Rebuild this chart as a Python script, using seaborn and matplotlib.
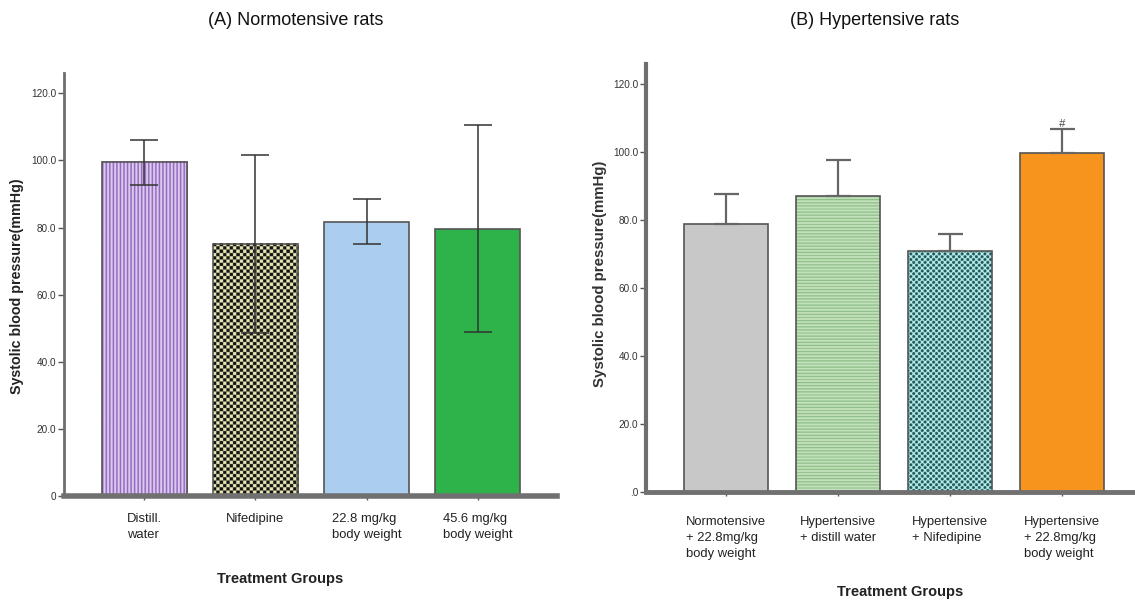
import numpy as np
import matplotlib
matplotlib.use("Agg")
import matplotlib.pyplot as plt
import seaborn as sns

# ---- data -------------------------------------------------------------
groups_a = ["Distill.\nwater", "Nifedipine", "22.8 mg/kg\nbody weight", "45.6 mg/kg\nbody weight"]
sbp_a = [99.4, 75.2, 81.8, 79.6]
sem_a = [6.6, 26.5, 6.7, 30.8]

groups_b = ["Normotensive\n+ 22.8mg/kg\nbody weight", "Hypertensive\n+ distill water",
            "Hypertensive\n+ Nifedipine", "Hypertensive\n+ 22.8mg/kg\nbody weight"]
sbp_b = [79.0, 87.0, 70.9, 99.9]
sem_b = [8.6, 10.8, 5.2, 6.9]

yticks = [0, 20, 40, 60, 80, 100, 120]
ytick_labels_a = ["0", "20.0", "40.0", "60.0", "80.0", "100.0", "120.0"]
ytick_labels_b = [".0", "20.0", "40.0", "60.0", "80.0", "100.0", "120.0"]

colors_a = ["#d8c6ee", "#e8e6b4", "#abcdee", "#2db34a"]
colors_b = ["#c8c8c8", "#b5d9ad", "#bdeeee", "#f7941d"]

REG = ["Liberation Sans", "DejaVu Sans"]

sns.set_theme(style="white")
plt.rcParams["font.family"] = REG

fig = plt.figure(figsize=(11.35, 6.03), dpi=100)
fig.patch.set_facecolor("white")

ax_a = fig.add_axes([0.05639, 0.17662, 0.43436, 0.70232])
ax_b = fig.add_axes([0.5689, 0.18408, 0.4311, 0.70978])


# ---- fill textures -----------------------------------------------------
def hex_rgb(h):
    h = h.lstrip("#")
    return np.array([int(h[i:i + 2], 16) / 255 for i in (0, 2, 4)])


def vstripes(U, V):
    dark = (U % 3.5) < 1.6
    return np.where(dark[..., None], hex_rgb("#9468bf"), hex_rgb("#dccbef"))


def checker(U, V):
    c = ((U // 3.3) + (V // 3.3)) % 2 == 0
    return np.where(c[..., None], hex_rgb("#121212"), hex_rgb("#e8e6b4"))


def hstripes(U, V):
    dark = (V % 3.1) < 1.2
    return np.where(dark[..., None], hex_rgb("#8dbd86"), hex_rgb("#c4e2bd"))


def dots(U, V):
    p = 5.7
    d1 = np.hypot((U % p) - p / 2, (V % p) - p / 2)
    d2 = np.hypot(((U + p / 2) % p) - p / 2, ((V + p / 2) % p) - p / 2)
    dark = np.minimum(d1, d2) < 1.55
    return np.where(dark[..., None], hex_rgb("#1d5b5b"), hex_rgb("#bdeeee"))


def add_texture(ax, patch, painter, os_=4):
    x0, y0 = patch.get_x(), patch.get_y()
    w, h = patch.get_width(), patch.get_height()
    (px0, py0), (px1, py1) = ax.transData.transform([(x0, y0), (x0 + w, y0 + h)])
    wpx = max(1, int(round(abs(px1 - px0))))
    hpx = max(1, int(round(abs(py1 - py0))))
    u = (np.arange(wpx * os_) + 0.5) / os_
    v = (np.arange(hpx * os_) + 0.5) / os_
    U, V = np.meshgrid(u, v)
    img = painter(U, V)
    ax.imshow(img, extent=(x0, x0 + w, y0, y0 + h), origin="upper", aspect="auto",
              interpolation="antialiased", zorder=patch.get_zorder() - 0.05)
    patch.set_facecolor("none")


def draw_panel(ax, groups, vals, errs, colors, width, xlim, textures, lower_err,
               capsize, ecolor, elw, ylabels_txt, tick_pad, spine_w):
    sns.barplot(x=groups, y=vals, hue=groups, palette=colors, legend=False,
                errorbar=None, width=width, edgecolor="#555555", linewidth=1.2,
                saturation=1, ax=ax)
    ax.set_xlim(*xlim)
    ax.set_ylim(0, 126)
    patches = sorted(ax.patches, key=lambda p: p.get_x())
    for p, tex in zip(patches, textures):
        if tex is not None:
            add_texture(ax, p, tex)
    ax.set_xlim(*xlim)
    ax.set_ylim(0, 126)

    xs = np.arange(len(vals))
    yerr = [errs if lower_err else [0] * len(errs), errs]
    ax.errorbar(xs, vals, yerr=yerr, fmt="none", ecolor=ecolor, elinewidth=elw,
                capsize=capsize, capthick=elw, zorder=5)

    ax.set_yticks(yticks)
    ax.set_yticklabels(ylabels_txt, fontsize=7.2, color="#333333")
    ax.set_xticks(xs)
    ax.set_xticklabels(groups, fontsize=9.4, color="#222222", linespacing=1.45)
    for t in ax.get_xticklabels():
        t.set_multialignment("left")
        t.set_verticalalignment("top")
    ax.tick_params(axis="y", direction="out", length=4.5, width=1, color="#555555",
                   pad=1, left=True)
    ax.tick_params(axis="x", direction="out", length=3, width=1, color="#555555",
                   pad=tick_pad, bottom=True)
    ax.set_xlabel("")
    ax.set_ylabel("")
    for s in ("top", "right"):
        ax.spines[s].set_visible(False)
    ax.spines["left"].set_color("#6e6e6e")
    ax.spines["left"].set_linewidth(spine_w[0])
    ax.spines["bottom"].set_color("#707070")
    ax.spines["bottom"].set_linewidth(spine_w[1])
    ax.set_facecolor("white")


draw_panel(ax_a, groups_a, sbp_a, sem_a, colors_a, 0.766, (-0.725, 3.716),
           [vstripes, checker, None, None], True, 10, "#333333", 1.1,
           ytick_labels_a, 9, (2.0, 4.0))
draw_panel(ax_b, groups_b, sbp_b, sem_b, colors_b, 0.75, (-0.717, 3.652),
           [None, hstripes, dots, None], False, 9, "#666666", 1.6,
           ytick_labels_b, 14, (3.0, 3.5))

# significance mark above the last hypertensive group
ax_b.text(3, sbp_b[3] + sem_b[3] + 1.5, "#", ha="center", va="center",
          fontsize=8, color="#444444", style="italic", zorder=6)

# titles and axis captions
fig.text(0.2604, 0.9668, "(A) Normotensive rats", ha="center", va="center",
         fontsize=13, color="#111111")
fig.text(0.7709, 0.9668, "(B) Hypertensive rats", ha="center", va="center",
         fontsize=13, color="#111111")

fig.text(0.2467, 0.0398, "Treatment Groups", ha="center", va="center",
         fontsize=10.5, fontweight="bold", color="#222222")
fig.text(0.793, 0.0182, "Treatment Groups", ha="center", va="center",
         fontsize=10.5, fontweight="bold", color="#222222")

fig.text(0.015, 0.5249, "Systolic blood pressure(mmHg)", rotation=90, ha="center",
         va="center", fontsize=10.3, fontweight="bold", color="#222222")
fig.text(0.5286, 0.5456, "Systolic blood pressure(mmHg)", rotation=90, ha="center",
         va="center", fontsize=10.8, fontweight="bold", color="#333333")

fig.savefig("out.png", dpi=100, facecolor="white")
